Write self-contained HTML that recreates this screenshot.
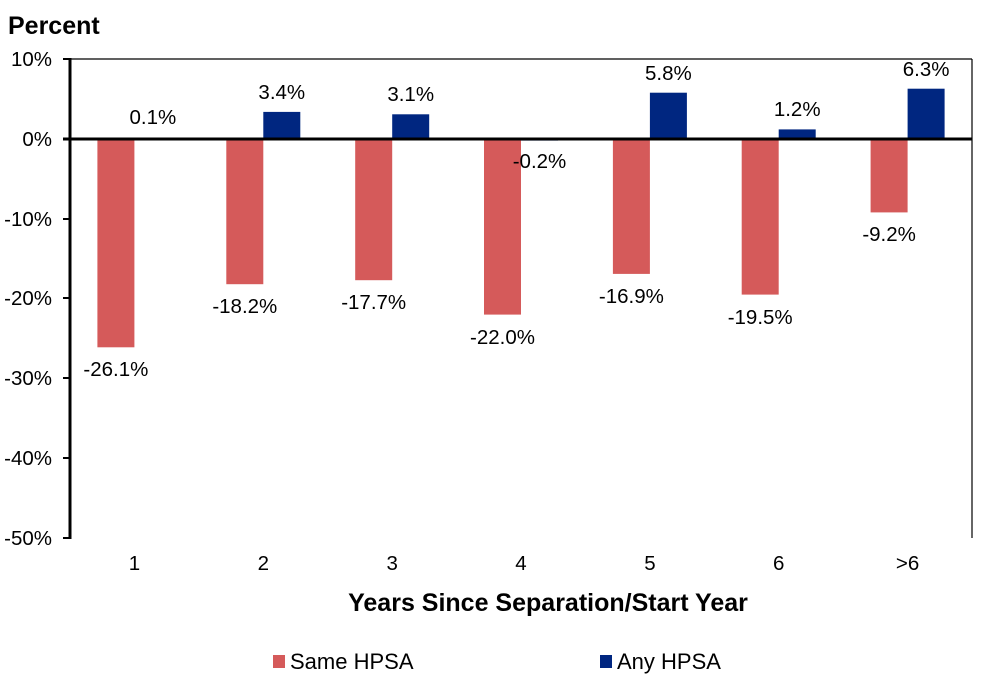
<!DOCTYPE html>
<html><head><style>body{margin:0;background:#fff}svg{display:block}text{font-family:"Liberation Sans",Arial,sans-serif;fill:#000}</style></head>
<body>
<svg width="999" height="692" viewBox="0 0 999 692">
<text x="8" y="34" font-size="25" font-weight="bold">Percent</text>
<line x1="70" y1="59" x2="972" y2="59" stroke="#000" stroke-width="1.2"/>
<line x1="972" y1="59" x2="972" y2="538" stroke="#000" stroke-width="1.2"/>
<g font-size="20.5" text-anchor="end">
<text x="52" y="66">10%</text><text x="52" y="146">0%</text><text x="52" y="226">-10%</text><text x="52" y="305">-20%</text><text x="52" y="385">-30%</text><text x="52" y="465">-40%</text><text x="52" y="545">-50%</text>
</g>
<g stroke="#000" stroke-width="2">
<line x1="63" y1="59" x2="70" y2="59"/><line x1="63" y1="219" x2="70" y2="219"/><line x1="63" y1="298" x2="70" y2="298"/><line x1="63" y1="378" x2="70" y2="378"/><line x1="63" y1="458" x2="70" y2="458"/><line x1="63" y1="538" x2="70" y2="538"/>
</g>
<g fill="#D55A5A">
<rect x="97.4" y="139" width="37" height="208.3"/>
<rect x="226.3" y="139" width="37" height="145.2"/>
<rect x="355.2" y="139" width="37" height="141.2"/>
<rect x="484" y="139" width="37" height="175.6"/>
<rect x="612.9" y="139" width="37" height="134.9"/>
<rect x="741.7" y="139" width="37" height="155.6"/>
<rect x="870.6" y="139" width="37" height="73.4"/>
</g>
<g fill="#002680">
<rect x="134.4" y="138.2" width="37" height="0.8"/>
<rect x="263.3" y="111.9" width="37" height="27.1"/>
<rect x="392.2" y="114.3" width="37" height="24.7"/>
<rect x="521" y="139" width="37" height="1.6"/>
<rect x="649.9" y="92.7" width="37" height="46.3"/>
<rect x="778.7" y="129.4" width="37" height="9.6"/>
<rect x="907.6" y="88.7" width="37" height="50.3"/>
</g>
<g font-size="20.5" text-anchor="middle">
<text x="115.9" y="376">-26.1%</text>
<text x="244.8" y="313">-18.2%</text>
<text x="373.7" y="309">-17.7%</text>
<text x="502.5" y="344">-22.0%</text>
<text x="631.4" y="303">-16.9%</text>
<text x="760.2" y="324">-19.5%</text>
<text x="889.1" y="241">-9.2%</text>
<text x="152.9" y="124">0.1%</text>
<text x="281.8" y="99">3.4%</text>
<text x="410.7" y="101">3.1%</text>
<text x="539.5" y="168">-0.2%</text>
<text x="668.4" y="80">5.8%</text>
<text x="797.2" y="116">1.2%</text>
<text x="926.1" y="76">6.3%</text>
<text x="134.4" y="570">1</text>
<text x="263.3" y="570">2</text>
<text x="392.2" y="570">3</text>
<text x="521" y="570">4</text>
<text x="649.9" y="570">5</text>
<text x="778.7" y="570">6</text>
<text x="907.6" y="570">&gt;6</text>
</g>
<line x1="70" y1="58" x2="70" y2="539" stroke="#000" stroke-width="3"/>
<line x1="63" y1="139" x2="972" y2="139" stroke="#000" stroke-width="3"/>
<text x="548" y="611" font-size="25" font-weight="bold" text-anchor="middle">Years Since Separation/Start Year</text>
<rect x="273" y="655" width="12" height="13" fill="#D55A5A"/>
<text x="290" y="669" font-size="22">Same HPSA</text>
<rect x="600" y="655" width="12" height="13" fill="#002680"/>
<text x="617" y="669" font-size="22">Any HPSA</text>
</svg>
</body></html>
